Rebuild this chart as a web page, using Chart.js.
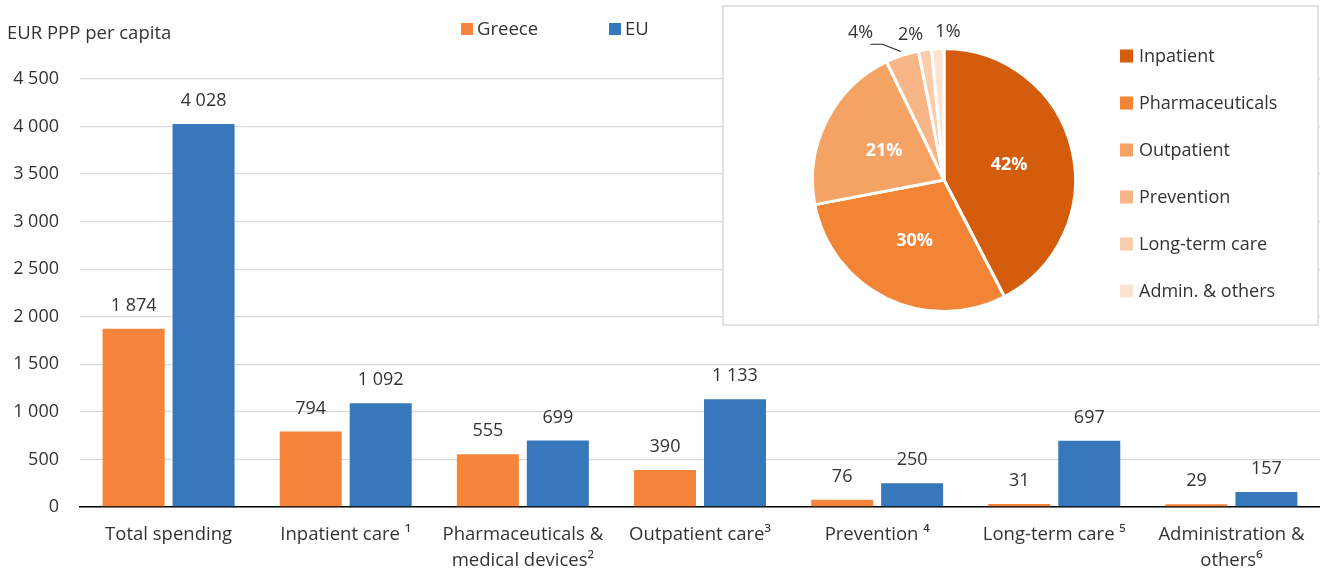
<!DOCTYPE html>
<html><head><meta charset="utf-8">
<script src="https://cdn.jsdelivr.net/npm/chart.js@4.4.1/dist/chart.umd.min.js"></script>
<style>
html,body{margin:0;padding:0;background:#fff;}
#wrap{position:relative;width:1320px;height:568px;overflow:hidden;}
#bar{position:absolute;left:0;top:0;}
#piebox{position:absolute;left:722px;top:5px;width:597px;height:321px;border:2px solid #e2e2e2;box-sizing:border-box;background:#fff;}
#pie{position:absolute;left:0;top:0;}
</style></head><body>
<div id="wrap"><canvas id="bar" width="1320" height="568"></canvas>
<div id="piebox"><canvas id="pie" width="593" height="317"></canvas></div></div>
<script>
const categories = ["Total spending","Inpatient care \u00b9",["Pharmaceuticals &","medical devices\u00b2"],"Outpatient care\u00b3","Prevention \u2074","Long-term care \u2075",["Administration &","others\u2076"]];
const seriesNames = ["Greece","EU"];
const greece = [1874,794,555,390,76,31,29];
const eu = [4028,1092,699,1133,250,697,157];
const yTicks = [0,500,1000,1500,2000,2500,3000,3500,4000,4500];
const yTitle = "EUR PPP per capita";
const pieLabels = ["Inpatient","Pharmaceuticals","Outpatient","Prevention","Long-term care","Admin. & others"];
const pieShares = [42.4,29.6,20.8,4.1,1.6,1.5];
const pieText = ["42%","30%","21%","4%","2%","1%"];

const FONT = "'Open Sans', sans-serif";
const TXT = '#333333';
const ORANGE = '#F4853A';
const BLUE = '#3778BC';
const pieColors = ['#D35C0D','#F28535','#F5A265','#F8B688','#FACDAB','#FCE3D2'];

function fmt(v){return String(v).replace(/\B(?=(\d{3})+(?!\d))/g,' ');}

const barDecor = {
  id:'barDecor',
  afterDatasetsDraw(chart){
    const ctx = chart.ctx;
    ctx.save();
    ctx.font = '18px ' + FONT;
    ctx.fillStyle = TXT;
    ctx.textAlign = 'center';
    ctx.textBaseline = 'middle';
    chart.data.datasets.forEach((ds,di)=>{
      const meta = chart.getDatasetMeta(di);
      meta.data.forEach((el,i)=>{
        ctx.fillText(fmt(ds.data[i]), el.x, el.y - 23);
      });
    });
    // y title
    ctx.textAlign = 'left';
    ctx.font = '18.5px ' + FONT;
    ctx.fillText(yTitle, 7, 33.5);
    // legend
    const lx = [461, 609];
    chart.data.datasets.forEach((ds,di)=>{
      ctx.fillStyle = ds.backgroundColor;
      ctx.fillRect(lx[di], 23, 12, 12);
      ctx.fillStyle = TXT;
      ctx.fillText(ds.label, lx[di] + 16, 29.5);
    });
    ctx.restore();
  }
};

new Chart(document.getElementById('bar'), {
  type:'bar',
  data:{
    labels: categories,
    datasets:[
      {label:seriesNames[0], data:greece, backgroundColor:ORANGE},
      {label:seriesNames[1], data:eu, backgroundColor:BLUE}
    ]
  },
  options:{
    responsive:false, animation:false,
    categoryPercentage:0.79, barPercentage:0.886,
    layout:{padding:{top:79,left:0,right:0,bottom:0}},
    plugins:{legend:{display:false}, tooltip:{enabled:false}},
    scales:{
      x:{
        afterFit(scale){ scale.height = 61; },
        grid:{display:false, drawTicks:false},
        border:{display:true, color:'#000', width:1.5},
        ticks:{font:{family:FONT, size:18.5, lineHeight:1.4}, color:TXT, padding:15, maxRotation:0, autoSkip:false}
      },
      y:{
        min:0, max:4500,
        afterBuildTicks(scale){ scale.ticks = yTicks.map(v=>({value:v})); },
        afterFit(scale){ scale.width = 80; },
        grid:{color:'#d9d9d9', lineWidth:1.3, drawTicks:false},
        border:{display:false},
        ticks:{font:{family:FONT, size:18}, color:TXT, padding:21, callback:(v)=>fmt(v)}
      }
    }
  },
  plugins:[barDecor]
});

const pieDecor = {
  id:'pieDecor',
  afterDatasetsDraw(chart){
    const ctx = chart.ctx;
    const meta = chart.getDatasetMeta(0);
    ctx.save();
    ctx.textAlign = 'center';
    ctx.textBaseline = 'middle';
    const offs = {3:[-36,-5], 4:[-12,3], 5:[11,1]};
    meta.data.forEach((arc,i)=>{
      const mid = (arc.startAngle + arc.endAngle)/2;
      const R = arc.outerRadius;
      if (pieShares[i] >= 10){
        ctx.font = 'bold 18px ' + FONT;
        ctx.fillStyle = '#fff';
        ctx.fillText(pieText[i], arc.x + Math.cos(mid)*R*0.51, arc.y + Math.sin(mid)*R*0.51 + 1);
      } else {
        const o = offs[i] || [0,0];
        const lx = arc.x + Math.cos(mid)*(R+18) + o[0];
        const ly = arc.y + Math.sin(mid)*(R+18) + o[1];
        ctx.font = '18px ' + FONT;
        ctx.fillStyle = TXT;
        ctx.fillText(pieText[i], lx, ly);
        if (i === 3){
          ctx.strokeStyle = '#222';
          ctx.lineWidth = 1.2;
          ctx.beginPath();
          ctx.moveTo(lx + 10, ly + 11);
          ctx.lineTo(lx + 22, ly + 11);
          ctx.lineTo(arc.x + Math.cos(mid)*(R+4), arc.y + Math.sin(mid)*(R+4));
          ctx.stroke();
        }
      }
    });
    // legend
    ctx.textAlign = 'left';
    ctx.font = '18px ' + FONT;
    chart.data.labels.forEach((lab,i)=>{
      const y = 49 + i*47;
      ctx.fillStyle = pieColors[i];
      ctx.fillRect(396, y - 6.5, 13, 13);
      ctx.fillStyle = TXT;
      ctx.fillText(lab, 415, y + 1);
    });
    ctx.restore();
  }
};

new Chart(document.getElementById('pie'), {
  type:'pie',
  data:{labels:pieLabels, datasets:[{data:pieShares, backgroundColor:pieColors, borderColor:'#fff', borderWidth:3}]},
  options:{
    responsive:false, animation:false,
    layout:{padding:{left:87, top:40, right:240, bottom:11}},
    plugins:{legend:{display:false}, tooltip:{enabled:false}}
  },
  plugins:[pieDecor]
});
</script>
</body></html>
